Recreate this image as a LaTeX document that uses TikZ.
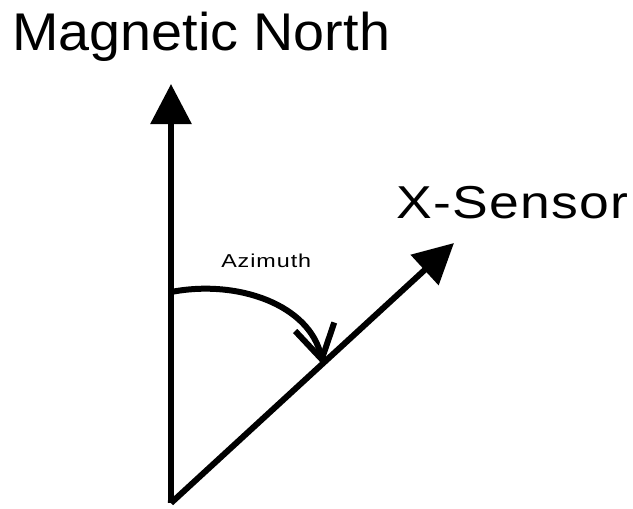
\documentclass[tikz,border=0pt]{standalone}
\usepackage{fontspec}
\setmainfont{Liberation Sans}
\usetikzlibrary{arrows.meta}
\begin{document}
\begin{tikzpicture}[x=0.75pt,y=-0.75pt,
  axis/.style={line width=4.5pt,-{Triangle[length=30pt,width=30pt]}},
  arcline/.style={line width=4.5pt,-{Straight Barb[length=25pt,width=30pt,line width=4.5pt]}},
  lbl/.style={inner sep=0pt,anchor=base west}]
\useasboundingbox (0,0) rectangle (633,508);
\coordinate (o) at (171,503);
\coordinate (n) at (171,84);
\coordinate (s) at (454,243);
\coordinate (a0) at (171,292);
\coordinate (a1) at (323,365);
\draw[axis,line cap=butt] (o) -- (n);
\draw[axis] (o) -- (s);
\draw[line width=4.5pt,line join=miter] ([xshift=-0.1pt]o) -- ([yshift=2pt]o);
\draw[arcline] (a0) .. controls (238,279) and (310,305) .. (a1);
\node[lbl] (mn) at (12,50) {\fontsize{39.8pt}{42pt}\selectfont\scalebox{1.05}[1]{Magnetic North}};
\node[lbl] (xs) at (396,218.5) {\fontsize{34.6pt}{37pt}\selectfont\addfontfeature{LetterSpace=2.5}\scalebox{1.16}[1]{X-Sensor}};
\node[lbl] (az) at (221,267.5) {\fontsize{14pt}{16pt}\selectfont\addfontfeature{LetterSpace=4}\scalebox{1.25}[1]{Azimuth}};
\end{tikzpicture}
\end{document}
